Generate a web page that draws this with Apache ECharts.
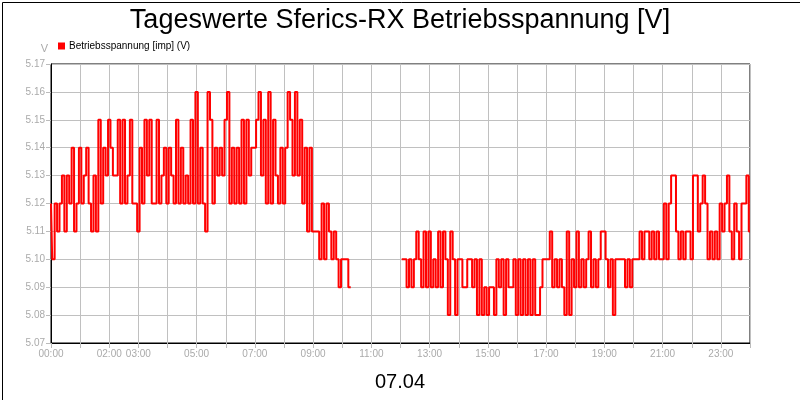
<!DOCTYPE html>
<html>
<head>
<meta charset="utf-8">
<script src="https://cdn.jsdelivr.net/npm/echarts@6/dist/echarts.min.js"></script>
<style>
html,body{margin:0;padding:0;background:#fff;}
#chart{width:800px;height:400px;}
</style>
</head>
<body>
<div id="chart"></div>
<script>
// Voltage readings (V), one value every 5 minutes, per block of hours
const volts00_05 = [
  5.12,5.10,5.12,5.11,5.12,5.13,5.11,5.13,5.12,5.14,5.11,5.12,
  5.14,5.12,5.13,5.14,5.12,5.11,5.13,5.11,5.15,5.12,5.14,5.13,
  5.15,5.14,5.13,5.13,5.15,5.12,5.15,5.12,5.13,5.15,5.12,5.12,
  5.11,5.14,5.12,5.15,5.13,5.15,5.12,5.12,5.15,5.12,5.13,5.14,
  5.12,5.14,5.13,5.12,5.15,5.12,5.14,5.12,5.13,5.12,5.15,5.12,
  5.16,5.12,5.14,5.12,5.11,5.16,5.15,5.12,5.14,5.13,5.14,5.13
];
const volts06_11 = [
  5.15,5.16,5.12,5.14,5.12,5.14,5.12,5.15,5.12,5.15,5.13,5.14,
  5.14,5.15,5.16,5.13,5.15,5.12,5.16,5.12,5.15,5.13,5.12,5.14,
  5.12,5.14,5.16,5.15,5.13,5.16,5.13,5.15,5.12,5.14,5.11,5.14,
  5.11,5.11,5.11,5.10,5.12,5.10,5.12,5.11,5.10,5.11,5.10,5.09,
  5.10,5.10,5.10,5.09,null,null,null,null,null,null,null,null,
  null,null,null,null,null,null,null,null,null,null,null,null
];
const volts12_17 = [
  null,5.10,5.10,5.09,5.10,5.09,5.10,5.11,5.10,5.09,5.11,5.09,
  5.11,5.09,5.10,5.09,5.11,5.09,5.11,5.10,5.08,5.11,5.10,5.08,
  5.10,5.10,5.09,5.09,5.10,5.10,5.09,5.10,5.08,5.10,5.08,5.09,
  5.08,5.09,5.09,5.08,5.10,5.09,5.10,5.08,5.10,5.09,5.09,5.10,
  5.08,5.10,5.08,5.10,5.08,5.10,5.08,5.10,5.08,5.08,5.09,5.10,
  5.10,5.10,5.11,5.09,5.10,5.09,5.10,5.09,5.08,5.11,5.08,5.10
];
const volts18_24 = [
  5.09,5.11,5.09,5.10,5.09,5.10,5.11,5.09,5.10,5.09,5.10,5.11,
  5.11,5.10,5.09,5.10,5.08,5.10,5.10,5.10,5.10,5.09,5.10,5.09,
  5.10,5.10,5.10,5.11,5.10,5.11,5.11,5.10,5.11,5.10,5.11,5.10,
  5.10,5.12,5.10,5.12,5.13,5.13,5.11,5.10,5.11,5.10,5.11,5.11,
  5.10,5.13,5.13,5.11,5.12,5.13,5.12,5.10,5.11,5.10,5.11,5.10,
  5.12,5.11,5.12,5.13,5.11,5.10,5.12,5.11,5.10,5.12,5.12,5.13,
  5.11
];
const labelHours = [0, 2, 3, 5, 7, 9, 11, 13, 15, 17, 19, 21, 23];
const yTicks = [5.07, 5.08, 5.09, 5.10, 5.11, 5.12, 5.13, 5.14, 5.15, 5.16, 5.17];
const stepMinutes = 5;

const allVolts = volts00_05.concat(volts06_11, volts12_17, volts18_24);
const seriesData = allVolts.map((v, i) => [i * stepMinutes / 60, v]);

function pad(n){ return (n < 10 ? '0' : '') + n; }

const chart = echarts.init(document.getElementById('chart'), null, {renderer: 'canvas'});
chart.setOption({
  animation: false,
  backgroundColor: '#fff',
  textStyle: {fontFamily: 'Liberation Sans, Arial, sans-serif'},
  title: [
    {
      text: 'Tageswerte Sferics-RX Betriebsspannung [V]',
      left: 'center', top: 2,
      textStyle: {fontSize: 27, fontWeight: 'normal', color: '#000', fontFamily: 'Liberation Sans, Arial, sans-serif'}
    },
    {
      text: '07.04',
      left: 'center', top: 367,
      textStyle: {fontSize: 20, fontWeight: 'normal', color: '#000', fontFamily: 'Liberation Sans, Arial, sans-serif'}
    }
  ],
  legend: {
    left: 53, top: 36,
    icon: 'rect', itemWidth: 7, itemHeight: 7, itemGap: 10,
    textStyle: {fontSize: 10, color: '#000', padding: [0, 0, 0, -1]},
    data: ['Betriebsspannung [imp] (V)']
  },
  grid: {left: 51, right: 50, top: 64, bottom: 57, show: true, borderColor: '#000', borderWidth: 1, backgroundColor: '#fff'},
  xAxis: {
    type: 'value', min: 0, max: 24, interval: 1,
    axisLine: {show: true, lineStyle: {color: '#000', width: 1}},
    axisTick: {show: true, length: 5, lineStyle: {color: '#bbb'}},
    splitLine: {show: true, lineStyle: {color: '#c0c0c0', width: 1}},
    axisLabel: {
      color: '#aaa', fontSize: 10, margin: 6,
      formatter: (h) => labelHours.indexOf(h) >= 0 ? pad(h) + ':00' : ''
    }
  },
  yAxis: {
    type: 'value', min: yTicks[0], max: yTicks[yTicks.length - 1], interval: 0.01,
    name: 'V', nameLocation: 'end', nameGap: 10,
    nameTextStyle: {color: '#aaa', fontSize: 11, align: 'right', padding: [0, 3, 0, 0]},
    axisLine: {show: true, lineStyle: {color: '#000', width: 1}},
    axisTick: {show: true, length: 5, lineStyle: {color: '#bbb'}},
    splitLine: {show: true, lineStyle: {color: '#c0c0c0', width: 1}},
    axisLabel: {color: '#aaa', fontSize: 10, margin: 6, formatter: (v) => v.toFixed(2)}
  },
  series: [{
    name: 'Betriebsspannung [imp] (V)',
    type: 'line',
    data: seriesData,
    step: 'middle',
    showSymbol: false,
    connectNulls: false,
    itemStyle: {color: '#ff0000'},
    lineStyle: {color: '#ff0000', width: 2}
  }],
  graphic: [{
    type: 'rect', left: 0, top: 0, z: 100, silent: true,
    shape: {x: 0.5, y: 0.5, width: 799, height: 399},
    style: {fill: 'none', stroke: '#000', lineWidth: 1}
  }]
});
</script>
</body>
</html>
